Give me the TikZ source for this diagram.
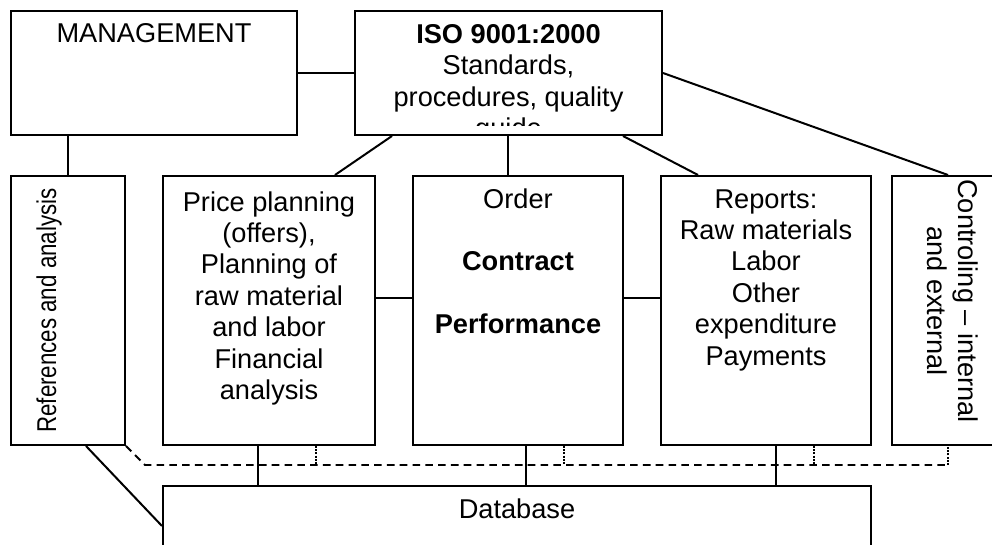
\documentclass[tikz,border=0pt]{standalone}
\usepackage{fontspec}
\setmainfont{Liberation Sans}
\newfontfamily\narrowfont[FakeStretch=0.82]{Liberation Sans}
\usetikzlibrary{positioning}

\begin{document}
\begin{tikzpicture}[x=0.5pt,y=0.5pt,
		box/.style={draw,line width=1pt,inner sep=0pt,anchor=north west},
		txt/.style={inner sep=0pt,align=center,font=\fontsize{13.6}{15.7}\selectfont},
		link/.style={line width=1pt},
		bus/.style={line width=0.9pt,dash pattern=on 3.8pt off 2.6pt},
		stub/.style={line width=0.8pt,dash pattern=on 1pt off 0.6pt}]
			\useasboundingbox (0,0) rectangle (992,-545);
			% boxes
			\node[box,minimum width=143pt,minimum height=62pt] (mgmt) at (10,-10) {};
			\node[box,minimum width=153.5pt,minimum height=62pt] (iso) at (354,-10) {};
			\node[box,minimum width=57pt,minimum height=134.5pt] (ref) at (10,-175) {};
			\node[box,minimum width=106pt,minimum height=134.5pt] (prc) at (162,-175) {};
			\node[box,minimum width=105pt,minimum height=134.5pt] (ord) at (412,-175) {};
			\node[box,minimum width=105pt,minimum height=134.5pt] (rep) at (660,-175) {};
			\node[box,minimum width=61pt,minimum height=134.5pt] (ctl) at (891,-175) {};
			\node[box,minimum width=354pt,minimum height=40pt] (db) at (162,-485) {};
			% texts
			\node[txt,below=6.5pt of mgmt.north] (mgmtT) {MANAGEMENT};
			\begin{scope}
				\clip ([yshift=5pt]iso.south west) rectangle (iso.north east);
				\node[txt,below=7pt of iso.north] (isoT) {\textbf{ISO 9001:2000}\\Standards,\\procedures, quality\\guide};
			\end{scope}
			\node[txt,below=8pt of prc.north] (prcT) {Price planning\\(offers),\\Planning of\\raw material\\and labor\\Financial\\analysis};
			\node[txt,below=6.5pt of ord.north] (ordT) {Order\\[15.7pt]\textbf{Contract}\\[15.7pt]\textbf{Performance}};
			\node[txt,below=7pt of rep.north] (repT) {Reports:\\Raw materials\\Labor\\Other\\expenditure\\Payments};
			\node[txt,below=6.5pt of db.north] (dbT) {Database};
			\node[txt,rotate=90,font=\fontsize{13.6}{15.7}\narrowfont] (refT) at ([xshift=-9.5pt]ref.center) {References and analysis};
			\node[txt,rotate=-90] (ctlT) at ([yshift=4.75pt]ctl.center) {Controling -- internal\\and external};
			% connectors
			\draw[link] (mgmt.east) -- (iso.west);
			\draw[link] (mgmt.south -| ref.north) -- (ref.north);
			\draw[link] ([xshift=19pt]iso.south west) -- ([xshift=86.5pt]prc.north west);
			\draw[link] ([xshift=77pt]iso.south west) -- ([xshift=48pt]ord.north west);
			\draw[link] ([xshift=134.5pt]iso.south west) -- ([xshift=19pt]rep.north west);
			\draw[link] (iso.east) -- ([xshift=28.5pt]ctl.north west);
			\draw[link] ([yshift=-61.5pt]prc.north east) -- ([yshift=-61.5pt]ord.north west);
			\draw[link] ([yshift=-61.5pt]ord.north east) -- ([yshift=-61.5pt]rep.north west);
			\draw[link] ([xshift=38pt]ref.south west) -- ([yshift=-20.5pt]db.north west);
			\foreach \bx/\sx in {prc/48pt,ord/57pt,rep/58pt}
				\draw[link] ([xshift=\sx]\bx.south west) -- ([xshift=\sx]\bx.south west |- db.north);
			% dashed bus
			\coordinate (busW) at ([shift={(19,-19)}]ref.south east);
			\coordinate (busE) at ([xshift=28.5pt]ctl.south west |- busW);
			\draw[bus] (ref.south east) -- (busW) -- (busE);
			\draw[stub] (busE) -- ([xshift=28.5pt]ctl.south west);
			\foreach \bx/\dx in {prc/77pt,ord/76pt,rep/77pt}
				\draw[stub] ([xshift=\dx]\bx.south west) -- ([xshift=\dx]\bx.south west |- busW);
		\end{tikzpicture}
\end{document}
